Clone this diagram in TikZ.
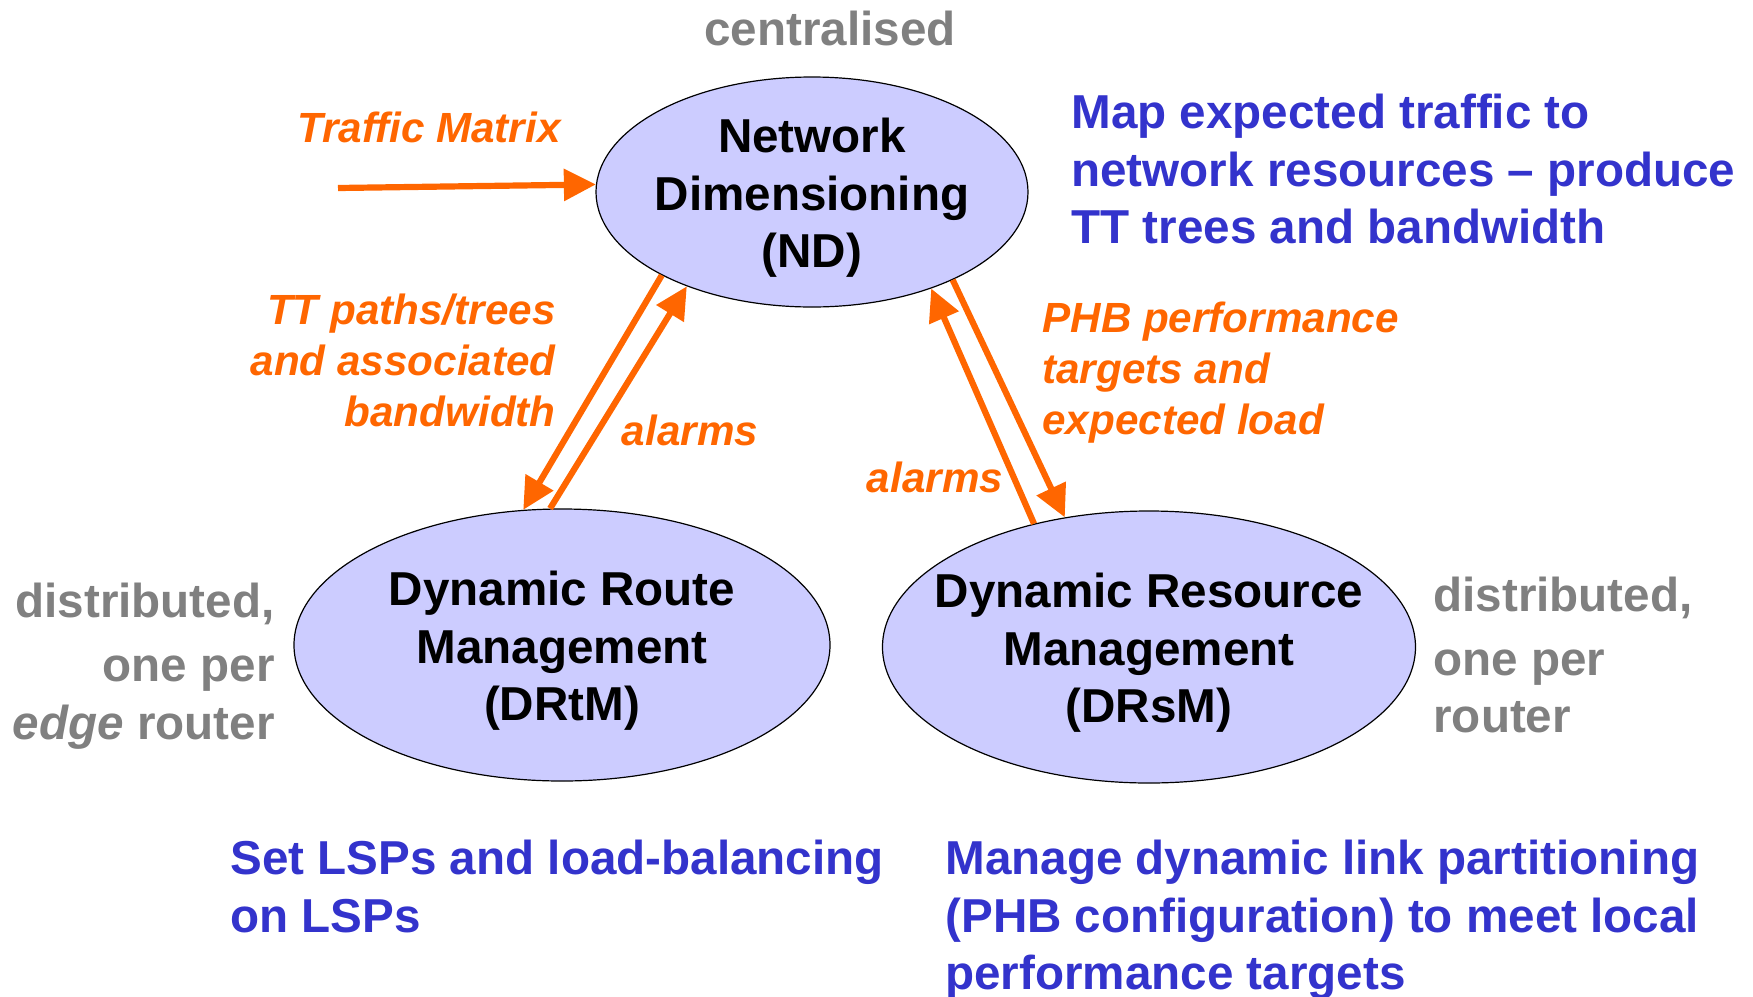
\documentclass[tikz,border=0pt]{standalone}
\usepackage{fontspec}
\setmainfont{Liberation Sans}
\usetikzlibrary{arrows.meta,positioning,shapes}

\definecolor{ndorange}{HTML}{FF6600}
\definecolor{ndblue}{HTML}{3333CC}
\definecolor{ndfill}{HTML}{CCCCFF}
\definecolor{ndgrey}{HTML}{808080}

\begin{document}
\begin{tikzpicture}[x=0.5pt,y=-0.5pt,>=Triangle]
    \tikzstyle{unit}=[ellipse,draw,fill=ndfill,inner sep=0pt,line width=0.6pt]
    \tikzstyle{unittext}=[align=center,yshift=-3pt,font=\fontsize{23.8}{28.7}\selectfont\bfseries]
    \tikzstyle{flow}=[-{Triangle[length=16pt,width=15.5pt]},draw=ndorange,line width=3.1pt]
    \tikzstyle{note}=[inner sep=0pt,text=ndgrey,font=\fontsize{23.8}{28.7}\selectfont\bfseries]
    \tikzstyle{aim}=[inner sep=0pt,text=ndblue,align=left,font=\fontsize{23.8}{28.7}\selectfont\bfseries]
    \tikzstyle{msg}=[inner sep=0pt,text=ndorange,font=\fontsize{21.1}{25.5}\selectfont\bfseries\itshape]
    \useasboundingbox (0,0) rectangle (1753,997);

    % the three management blocks
    \node[unit,minimum width=216pt,minimum height=115pt,
      label={[unittext]center:Network\\Dimensioning\\(ND)}] (nd) at (812,192) {};
    \node[unit,minimum width=268pt,minimum height=136pt,
      label={[unittext]center:Dynamic Route\\Management\\(DRtM)}] (drtm) at (562,645) {};
    \node[unit,minimum width=266.5pt,minimum height=136pt,
      label={[unittext]center:Dynamic Resource\\Management\\(DRsM)}] (drsm) at (1149,647) {};

    % scope notes
    \node[note] (central) at (830,28) {centralised};
    \node[note,anchor=east,align=right] (distl) at (275,666) {distributed,\\[3.5pt]one per\\\textit{edge} router};
    \node[note,anchor=west,align=left] (distr) at (1433,655) {distributed,\\[3.5pt]one per\\router};

    % what each block does
    \node[aim,anchor=north west] (ndaim) at (1071,94) {Map expected traffic to\\network resources -- produce\\TT trees and bandwidth};
    \node[aim,anchor=north west] (drtmaim) at (230,840) {Set LSPs and load-balancing\\on LSPs};
    \node[aim,anchor=north west] (drsmaim) at (945,840) {Manage dynamic link partitioning\\(PHB configuration) to meet local\\performance targets};

    % messages
    \node[msg,anchor=base east] (tm) at (561,142) {Traffic Matrix};
    \coordinate (tmin) at (338,188);
    \node[msg,anchor=north east,align=right] (paths) at (556,294) {TT paths/trees\\and associated\\bandwidth};
    \node[msg,anchor=base] (alarml) at (690,445) {alarms};
    \node[msg,anchor=north west,align=left] (phb) at (1042,302) {PHB performance\\targets and\\expected load};
    \node[msg,anchor=base] (alarmr) at (935,492) {alarms};

    \draw[flow] (tmin) -- (nd.178);
    \draw[flow] (nd.209) -- (drtm.106);
    \draw[flow] (drtm.95) -- (nd.217);
    \draw[flow] (drsm.133) -- (nd.321);
    \draw[flow] (nd.328) -- (drsm.123);
\end{tikzpicture}
\end{document}
